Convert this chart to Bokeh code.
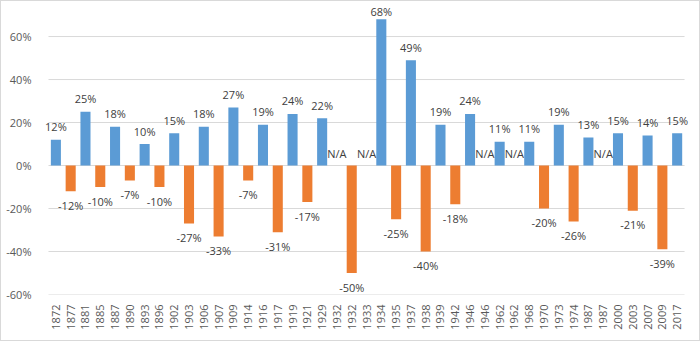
import math
from bokeh.plotting import figure
from bokeh.layouts import column
from bokeh.models import (ColumnDataSource, FixedTicker, PrintfTickFormatter, Range1d,
                          CustomJSTickFormatter, LabelSet)
from bokeh.core.properties import value
from bokeh.embed import file_html
from bokeh.resources import INLINE

# ---- data ----
years = ["1872", "1877", "1881", "1885", "1887", "1890", "1893", "1896", "1902", "1903",
         "1906", "1907", "1909", "1914", "1916", "1917", "1919", "1921", "1929", "1932",
         "1932", "1933", "1934", "1935", "1937", "1938", "1939", "1942", "1946", "1946",
         "1962", "1962", "1968", "1970", "1973", "1974", "1987", "1987", "2000", "2003",
         "2007", "2009", "2017"]
# percent returns; None = N/A
returns = [12, -12, 25, -10, 18, -7, 10, -10, 15, -27,
           18, -33, 27, -7, 19, -31, 24, -17, 22, None,
           -50, None, 68, -25, 49, -40, 19, -18, 24, None,
           11, None, 11, -20, 19, -26, 13, None, 15, -21,
           14, -39, 15]
y_ticks = [-60, -40, -20, 0, 20, 40, 60]

BLUE = "#5B9BD5"
ORANGE = "#ED7D31"
TXT = "#595959"
LBL = "#404040"
GRID = "#D9D9D9"
FONT = "Open Sans"

n = len(years)
idx = list(range(n))
Y_TOP = 76.3
bars = ColumnDataSource(dict(
    x=[i for i, v in zip(idx, returns) if v is not None],
    top=[v for v in returns if v is not None],
    color=[BLUE if v > 0 else ORANGE for v in returns if v is not None],
))
pos_vals = [(i, v) for i, v in zip(idx, returns) if v is not None and v > 0]
pos = ColumnDataSource(dict(
    x=[i for i, v in pos_vals],
    y=[v for i, v in pos_vals],
    text=[f"{v}%" for i, v in pos_vals],
    # labels near the top edge are pulled closer to their bar (as the spreadsheet does)
    off=[13 if v < Y_TOP - 12 else 8 for i, v in pos_vals],
))
neg = ColumnDataSource(dict(
    x=[i for i, v in zip(idx, returns) if v is not None and v < 0],
    y=[v for v in returns if v is not None and v < 0],
    text=[f"{v}%" for v in returns if v is not None and v < 0],
))
na = ColumnDataSource(dict(
    x=[i for i, v in zip(idx, returns) if v is None],
    y=[0 for v in returns if v is None],
    text=["N/A" for v in returns if v is None],
))

# plot frame extended a bit beyond the category area so data labels are not clipped
p = figure(width=698, height=339, output_backend="svg", toolbar_location=None,
           x_range=Range1d(-1.04, n + 0.51), y_range=Range1d(-60, Y_TOP),
           min_border_left=39, min_border_right=0, min_border_top=0, min_border_bottom=46)
p.outline_line_color = None
p.background_fill_color = "white"
p.border_fill_color = "white"

# horizontal gridlines over the category area only
p.segment(x0=-0.5, x1=n - 0.5, y0=y_ticks, y1=y_ticks, line_color=GRID, line_width=1)

p.vbar(x="x", top="top", bottom=0, width=0.68, fill_color="color", line_color=None, source=bars)

common = dict(x="x", y="y", text="text", text_align="center", text_baseline="middle",
              text_font=value(FONT), text_font_size="11px", text_color=LBL)
p.add_layout(LabelSet(source=pos, y_offset="off", **common))
p.add_layout(LabelSet(source=neg, y_offset=-14, **common))
p.add_layout(LabelSet(source=na, y_offset=12, **common))

# axes
p.yaxis.ticker = FixedTicker(ticks=y_ticks)
p.yaxis.formatter = PrintfTickFormatter(format="%d%%")
p.yaxis.axis_line_color = None
p.yaxis.major_tick_line_color = None
p.yaxis.minor_tick_line_color = None
p.yaxis.major_label_standoff = 3
p.yaxis.major_label_text_font = FONT
p.yaxis.major_label_text_font_size = "11px"
p.yaxis.major_label_text_color = TXT

p.xaxis.ticker = FixedTicker(ticks=idx)
p.xaxis.formatter = CustomJSTickFormatter(args=dict(labels=years),
                                          code="const i = Math.round(tick); return (i >= 0 && i < labels.length) ? labels[i] : '';")
p.xaxis.major_label_orientation = math.pi / 2
p.xaxis.axis_line_color = None
p.xaxis.major_tick_line_color = None
p.xaxis.minor_tick_line_color = None
p.xaxis.major_label_standoff = 4
p.xaxis.major_label_text_font = FONT
p.xaxis.major_label_text_font_size = "11px"
p.xaxis.major_label_text_color = TXT

p.xgrid.grid_line_color = None
p.ygrid.grid_line_color = None

layout = column(p, styles={"border": "1px solid #D9D9D9", "background-color": "white"})

open("out.html", "w").write(file_html(layout, INLINE))
